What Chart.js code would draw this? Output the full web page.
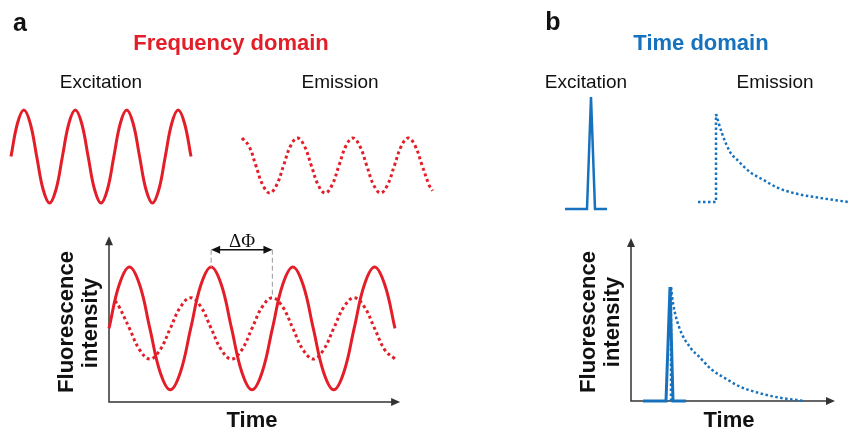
<!DOCTYPE html>
<html>
<head>
<meta charset="utf-8">
<script src="https://cdn.jsdelivr.net/npm/chart.js@4.4.1/dist/chart.umd.min.js"></script>
<style>
  html, body { margin: 0; padding: 0; background: #fff; }
  #page { position: relative; width: 848px; height: 430px; overflow: hidden; font-family: "Liberation Sans", Arial, sans-serif; color: #111; }
  canvas { position: absolute; left: 0; top: 0; }
  .t { position: absolute; white-space: nowrap; line-height: 1; transform: translate(-50%, -50%); }
  .panel { font-weight: bold; font-size: 25px; }
  .title { font-weight: bold; font-size: 22px; }
  .sub { font-size: 19px; }
  .axis { font-weight: bold; font-size: 22px; }
  .rot { transform: translate(-50%, -50%) rotate(-90deg); }
  .phase { font-family: "Liberation Serif", "DejaVu Serif", serif; font-size: 19px; }
</style>
</head>
<body>
<div id="page">
  <canvas id="freqExc" width="848" height="430"></canvas>
  <canvas id="freqEm" width="848" height="430"></canvas>
  <canvas id="freqMix" width="848" height="430"></canvas>
  <canvas id="timeExc" width="848" height="430"></canvas>
  <canvas id="timeEm" width="848" height="430"></canvas>
  <canvas id="timeMix" width="848" height="430"></canvas>

  <div class="t panel" style="left:20px; top:22px;">a</div>
  <div class="t title" style="left:231px; top:43px; color:#e31e28;">Frequency domain</div>
  <div class="t sub" style="left:101px; top:81px;">Excitation</div>
  <div class="t sub" style="left:340px; top:81px;">Emission</div>
  <div class="t phase" style="left:242px; top:240px;">ΔΦ</div>
  <div class="t axis rot" style="left:66px; top:322px;">Fluorescence</div>
  <div class="t axis rot" style="left:90px; top:323px;">intensity</div>
  <div class="t axis" style="left:252px; top:420px;">Time</div>

  <div class="t panel" style="left:553px; top:21px;">b</div>
  <div class="t title" style="left:701px; top:43px; color:#1672be;">Time domain</div>
  <div class="t sub" style="left:586px; top:81px;">Excitation</div>
  <div class="t sub" style="left:775px; top:81px;">Emission</div>
  <div class="t axis rot" style="left:588px; top:322px;">Fluorescence</div>
  <div class="t axis rot" style="left:612px; top:322px;">intensity</div>
  <div class="t axis" style="left:729px; top:420px;">Time</div>
</div>

<script>
// a: frequency domain, time in quarter periods of the modulation
const freqTime = [0, 0.5, 1, 1.5, 2, 2.5, 3, 3.5, 4, 4.5, 5, 5.5, 6, 6.5, 7, 7.5, 8, 8.5, 9, 9.5, 10, 10.5, 11, 11.5, 12, 12.5, 13, 13.5, 14];
const freqExcitation = [0, 0.71, 1, 0.71, 0, -0.71, -1, -0.71, 0, 0.71, 1, 0.71, 0, -0.71, -1, -0.71, 0, 0.71, 1, 0.71, 0, -0.71, -1, -0.71, 0, 0.71, 1, 0.71, 0];
const freqEmissionTime = [0, 0.5, 1, 1.5, 2, 2.5, 3, 3.5, 4, 4.5, 5, 5.5, 6, 6.5, 7, 7.5, 8, 8.5, 9, 9.5, 10, 10.5, 11, 11.5, 12, 12.5, 13, 13.5, 13.75];
const freqEmission = [1, 0.71, 0, -0.71, -1, -0.71, 0, 0.71, 1, 0.71, 0, -0.71, -1, -0.71, 0, 0.71, 1, 0.71, 0, -0.71, -1, -0.71, 0, 0.71, 1, 0.71, 0, -0.71, -0.92];

// a, lower plot: fluorescence intensity
const mixExcitation = [1.2, 1.91, 2.2, 1.91, 1.2, 0.49, 0.2, 0.49, 1.2, 1.91, 2.2, 1.91, 1.2, 0.49, 0.2, 0.49, 1.2, 1.91, 2.2, 1.91, 1.2, 0.49, 0.2, 0.49, 1.2, 1.91, 2.2, 1.91, 1.2];
const mixEmissionTime = [0.3, 0.5, 1, 1.5, 2, 2.5, 3, 3.5, 4, 4.5, 5, 5.5, 6, 6.5, 7, 7.5, 8, 8.5, 9, 9.5, 10, 10.5, 11, 11.5, 12, 12.5, 13, 13.5, 14];
const mixEmission = [1.65, 1.55, 1.2, 0.85, 0.7, 0.85, 1.2, 1.55, 1.7, 1.55, 1.2, 0.85, 0.7, 0.85, 1.2, 1.55, 1.7, 1.55, 1.2, 0.85, 0.7, 0.85, 1.2, 1.55, 1.7, 1.55, 1.2, 0.85, 0.7];
const phaseFrom = [5, 2.2];   // excitation peak
const phaseTo = [8, 1.7];     // emission peak
const phaseLevel = 2.48;

// b: time domain, arbitrary time units
const pulseTopTime = [0, 5.5, 6.5, 7.5, 10.5];
const pulseTop = [0, 0, 1, 0, 0];
const riseTopTime = [0, 4.5, 4.5];
const riseTop = [0, 0, 1];
const decayTopTime = [4.5, 6, 8, 10, 13, 16, 20, 25, 30, 36, 37.5];
const decayTop = [1, 0.78, 0.57, 0.47, 0.34, 0.26, 0.16, 0.09, 0.05, 0.01, 0];

const pulseTime = [3, 8.75, 9.75, 10.5, 13.75];
const pulse = [0, 0, 1, 0, 0];
const riseTime = [10, 10];
const rise = [0, 1];
const decayTime = [10, 10.5, 12, 15, 17, 20, 24, 27, 32, 37, 43.5];
const decay = [1, 0.86, 0.65, 0.46, 0.39, 0.28, 0.19, 0.13, 0.07, 0.03, 0];

const red = "#e31e28";
const blue = "#1672be";

function points(times, values) {
  return times.map((t, i) => ({ x: t, y: values[i] }));
}

// scale range so that value v0 sits at pixel p0 and v1 at p1
function anchor(v0, p0, v1, p1, size) {
  const k = (p1 - p0) / (v1 - v0);
  const a = v0 - p0 / k;
  const b = v0 + (size - p0) / k;
  return { min: Math.min(a, b), max: Math.max(a, b) };
}

function head(ctx, x, y, dx, dy) {
  const len = 9, w = 4;
  ctx.beginPath();
  ctx.moveTo(x, y);
  ctx.lineTo(x - dx * len - dy * w, y - dy * len + dx * w);
  ctx.lineTo(x - dx * len + dy * w, y - dy * len - dx * w);
  ctx.closePath();
  ctx.fill();
}

// axes with arrow tips
const arrowAxes = {
  id: "arrowAxes",
  beforeDatasetsDraw(chart, args, opts) {
    const { ctx, scales: { x, y } } = chart;
    const x0 = x.getPixelForValue(0);
    const y0 = y.getPixelForValue(0);
    const x1 = x.getPixelForValue(opts.xEnd);
    const y1 = y.getPixelForValue(opts.yEnd);
    ctx.save();
    ctx.strokeStyle = "#333";
    ctx.fillStyle = "#333";
    ctx.lineWidth = 1.5;
    ctx.beginPath();
    ctx.moveTo(x0, y1 + 8);
    ctx.lineTo(x0, y0);
    ctx.lineTo(x1 - 8, y0);
    ctx.stroke();
    head(ctx, x0, y1, 0, -1);
    head(ctx, x1, y0, 1, 0);
    ctx.restore();
  },
};

// delta phi marker between the two peaks
const phaseMarker = {
  id: "phaseMarker",
  afterDatasetsDraw(chart, args, opts) {
    const { ctx, scales: { x, y } } = chart;
    const xa = x.getPixelForValue(opts.from[0]);
    const ya = y.getPixelForValue(opts.from[1]);
    const xb = x.getPixelForValue(opts.to[0]);
    const yb = y.getPixelForValue(opts.to[1]);
    const yl = y.getPixelForValue(opts.level);
    ctx.save();
    ctx.strokeStyle = "#aaa";
    ctx.lineWidth = 1.2;
    ctx.setLineDash([5, 3]);
    ctx.beginPath();
    ctx.moveTo(xa, yl);
    ctx.lineTo(xa, ya);
    ctx.moveTo(xb, yl);
    ctx.lineTo(xb, yb);
    ctx.stroke();
    ctx.setLineDash([]);
    ctx.strokeStyle = "#111";
    ctx.fillStyle = "#111";
    ctx.lineWidth = 1.5;
    ctx.beginPath();
    ctx.moveTo(xa + 6, yl);
    ctx.lineTo(xb - 6, yl);
    ctx.stroke();
    head(ctx, xa, yl, -1, 0);
    head(ctx, xb, yl, 1, 0);
    ctx.restore();
  },
};

// mode: "wave" smooth bezier, "decay" monotone, otherwise straight
function line(data, color, width, dashed, mode) {
  return {
    data: data,
    borderColor: color,
    borderWidth: width,
    borderDash: dashed || [],
    pointRadius: 0,
    fill: false,
    tension: mode ? 0.4 : 0,
    cubicInterpolationMode: mode === "decay" ? "monotone" : "default",
  };
}

function makeChart(id, xr, yr, datasets, plugins, pluginOpts) {
  const ctx = document.getElementById(id).getContext("2d");
  return new Chart(ctx, {
    type: "line",
    data: { datasets: datasets },
    plugins: plugins || [],
    options: {
      responsive: false,
      animation: false,
      events: [],
      layout: { padding: 0 },
      scales: {
        x: { type: "linear", display: false, min: xr.min, max: xr.max },
        y: { type: "linear", display: false, min: yr.min, max: yr.max },
      },
      plugins: Object.assign({ legend: { display: false }, tooltip: { enabled: false } }, pluginOpts || {}),
    },
  });
}

const W = 848, H = 430;

// panel a
makeChart("freqExc", anchor(0, 11, 14, 191, W), anchor(1, 110, -1, 203, H),
  [line(points(freqTime, freqExcitation), red, 3, null, "wave")]);

makeChart("freqEm", anchor(0, 242, 14, 436, W), anchor(1, 138, -1, 193, H),
  [line(points(freqEmissionTime, freqEmission), red, 3, [3, 3], "wave")]);

makeChart("freqMix", anchor(0, 109, 14, 395, W), anchor(0, 402, 2.2, 267, H),
  [
    line(points(freqTime, mixExcitation), red, 3, null, "wave"),
    line(points(mixEmissionTime, mixEmission), red, 3, [3, 3], "wave"),
  ],
  [arrowAxes, phaseMarker],
  {
    arrowAxes: { xEnd: 14.25, yEnd: 2.7 },
    phaseMarker: { from: phaseFrom, to: phaseTo, level: phaseLevel },
  });

// panel b
makeChart("timeExc", anchor(0, 565, 10.5, 607, W), anchor(0, 209, 1, 97, H),
  [line(points(pulseTopTime, pulseTop), blue, 2.5, null, null)]);

makeChart("timeEm", anchor(0, 698, 36, 842, W), anchor(0, 202, 1, 114, H),
  [
    line(points(riseTopTime, riseTop), blue, 2.5, [2.5, 2.5], null),
    line(points(decayTopTime, decayTop), blue, 2.5, [2.5, 2.5], "decay"),
  ]);

makeChart("timeMix", anchor(0, 631, 10, 671, W), anchor(0, 401, 1, 287, H),
  [
    line(points(pulseTime, pulse), blue, 3, null, null),
    line(points(riseTime, rise), blue, 2.5, [2.5, 2.5], null),
    line(points(decayTime, decay), blue, 2.5, [2.5, 2.5], "decay"),
  ],
  [arrowAxes],
  { arrowAxes: { xEnd: 51, yEnd: 1.43 } });
</script>
</body>
</html>
